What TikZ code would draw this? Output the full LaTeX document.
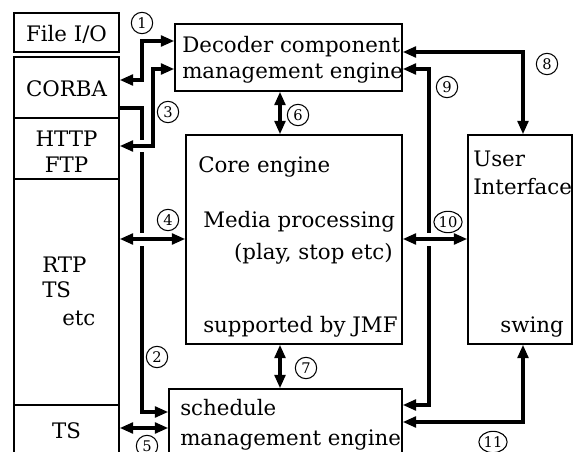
\documentclass[tikz,border=0pt]{standalone}
\usepackage{fontspec}
\setmainfont{DejaVu Serif}
\usepackage{tikz}
\usetikzlibrary{arrows.meta, shapes.geometric, fit}
\tikzstyle{box} = [rectangle, draw=black, line width=1.1pt, inner sep=0pt]
\tikzstyle{txt} = [inner sep=0pt, font=\fontsize{16}{19}\selectfont]
\tikzstyle{num} = [ellipse, draw=black, line width=0.8pt, inner sep=0.5pt, minimum width=16pt, minimum height=16pt, font=\fontsize{11}{12}\selectfont]
\tikzstyle{link} = [line width=2.4pt, -{Triangle[length=10pt,width=8pt]}]
\tikzstyle{both} = [line width=2.4pt, {Triangle[length=10pt,width=8pt]}-{Triangle[length=10pt,width=8pt]}]
\tikzstyle{bridge} = [fill=white]

\begin{document}
\begin{tikzpicture}[x=0.75pt, y=-0.75pt]
        \clip (0,0) rectangle (575,452);

        % protocol column
        \node (fileio) [box, fit={(14,13) (119,52)}] {};
        \node (corba) [box, fit={(14,57) (119,118)}] {};
        \node (http) [box, fit={(14,118) (119,179)}] {};
        \node (rtp) [box, fit={(14,179) (119,405)}] {};
        \node (ts) [box, fit={(14,405) (119,470)}] {};

        \node (tfileio) [txt, anchor=base] at (66.5,42) {File I/O};
        \node (tcorba) [txt, anchor=base] at (66.5,97) {CORBA};
        \node (thttp) [txt, anchor=base] at (66.5,147) {HTTP};
        \node (tftp) [txt, anchor=base] at (66.5,173) {FTP};
        \node (trtp) [txt, anchor=base west] at (42,273) {RTP};
        \node (trts) [txt, anchor=base west] at (42,298) {TS};
        \node (tetc) [txt, anchor=base west] at (62,326) {etc};
        \node (tts) [txt, anchor=base] at (66.5,438) {TS};

        % engines
        \node (decoder) [box, fit={(175,24) (402,91)}] {};
        \node (core) [box, fit={(186,135) (402,344)}] {};
        \node (sched) [box, fit={(169,389) (402,470)}] {};
        \node (ui) [box, fit={(468,135) (572,344)}] {};

        \node (tdec1) [txt, anchor=base west] at (182,53) {Decoder component};
        \node (tdec2) [txt, anchor=base west] at (182,79) {management engine};
        \node (tcore) [txt, anchor=base west] at (198,173) {Core engine};
        \node (tmedia) [txt, anchor=base west] at (203,228) {Media processing};
        \node (tplay) [txt, anchor=base east] at (393,260) {(play, stop etc)};
        \node (tjmf) [txt, anchor=base west] at (203,333) {supported by JMF};
        \node (tsch1) [txt, anchor=base west] at (180,416) {schedule};
        \node (tsch2) [txt, anchor=base west] at (180,445) {management engine};
        \node (tuser) [txt, anchor=base west] at (473,167) {User};
        \node (tif) [txt, anchor=base west] at (473,195) {Interface};
        \node (tswing) [txt, anchor=base east] at (564,333) {swing};

        % connectors
        \draw [link] (corba.east |- 0,108) -- (142,108) -- (142,412) -- (sched.west |- 0,412);
        \draw [both] (corba.east |- 0,80) -- (142,80) -- (142,41) -- (decoder.west |- 0,41);
        \draw [both] (decoder.east |- 0,69) -- (429,69) -- (429,405) -- (sched.east |- 0,405);
        \fill [bridge] (136,140) rectangle (148,152);
        \fill [bridge] (136,233) rectangle (148,246);
        \fill [bridge] (423,233) rectangle (435,246);
        \draw [both] (http.east |- 0,146) -- (153,146) -- (153,69) -- (decoder.west |- 0,69);
        \draw [both] (rtp.east |- 0,239) -- (core.west |- 0,239);
        \draw [both] (ts.east |- 0,428) -- (sched.west |- 0,428);
        \draw [both] (decoder.south -| 280,0) -- (core.north -| 280,0);
        \draw [both] (core.south -| 280,0) -- (sched.north -| 280,0);
        \draw [both] (decoder.east |- 0,52) -- (523,52) -- (ui.north -| 523,0);
        \draw [both] (core.east |- 0,239) -- (ui.west |- 0,239);
        \draw [both] (ui.south -| 523,0) -- (523,422) -- (sched.east |- 0,422);

        % step numbers
        \foreach \n/\x/\y in {1/142/23, 2/157/357, 3/168/112, 4/168/220, 5/147/446, 6/298/115,
                7/306/368, 8/547/64, 9/447/87, 10/448/222, 11/493/442}
                \node (c\n) [num] at (\x,\y) {\n};

\end{tikzpicture}
\end{document}
